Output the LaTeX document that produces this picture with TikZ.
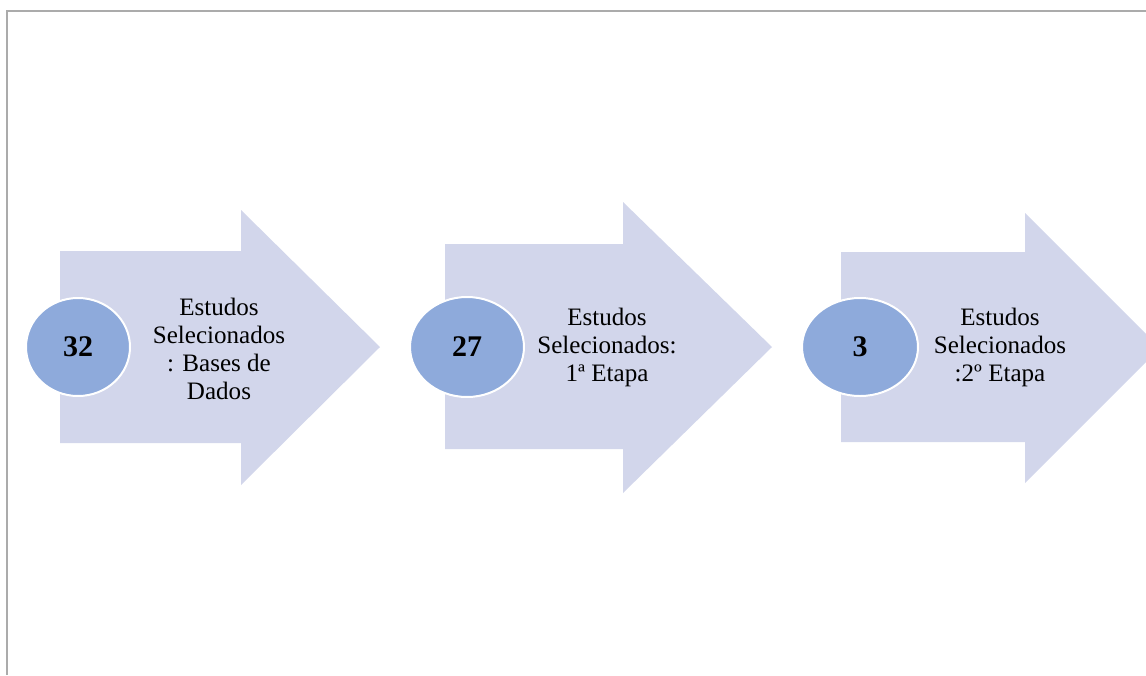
\documentclass[tikz,border=0pt]{standalone}
\usepackage{fontspec}
\setmainfont{Liberation Serif}
\usetikzlibrary{shapes.geometric}
\definecolor{arrowfill}{HTML}{D2D6EB}
\definecolor{circfill}{HTML}{8EAADB}
\definecolor{framegray}{HTML}{ABABAB}
\tikzset{
  bigarrow/.style={fill=arrowfill, draw=none},
  numcirc/.style={ellipse, fill=circfill, draw=white, line width=1.5pt, inner sep=0pt,
    font=\fontsize{22.5}{26}\selectfont\bfseries},
  steptext/.style={align=center, inner sep=0pt, font=\fontsize{18.8}{21}\selectfont},
}
\begin{document}
\begin{tikzpicture}[x=0.75pt,y=-0.75pt]
\useasboundingbox (0,0) rectangle (1146,675);
\draw[framegray, line width=1.6pt] (7,675) -- (7,11) -- (1146,11);
% arrow 1
\fill[bigarrow] (60,251) -- (241,251) -- (241,210) -- (380,347) -- (241,485) -- (241,443) -- (60,443) -- cycle;
% arrow 2
\fill[bigarrow] (445,244) -- (623,244) -- (623,202) -- (772,347) -- (623,493) -- (623,449) -- (445,449) -- cycle;
% arrow 3 (cut at the right edge)
\begin{scope}
\clip (0,0) rectangle (1146,675);
\fill[bigarrow] (841,252) -- (1025,252) -- (1025,213) -- (1160,348) -- (1025,483) -- (1025,442) -- (841,442) -- cycle;
\end{scope}
% circles with numbers
\node[numcirc, minimum width=78pt, minimum height=73.5pt] (c1) at (78,347) {32};
\node[numcirc, minimum width=85.5pt, minimum height=75pt] (c2) at (467,347) {27};
\node[numcirc, minimum width=87pt, minimum height=73.5pt] (c3) at (860,347) {3};
% texts
\node[steptext] (t1) at (219,349) {Estudos\\Selecionados\\: Bases de\\Dados};
\node[steptext] (t2) at (607,347) {Estudos\\Selecionados:\\1ª Etapa};
\node[steptext] (t3) at (1000,347) {Estudos\\Selecionados\\:2º Etapa};
\end{tikzpicture}
\end{document}
